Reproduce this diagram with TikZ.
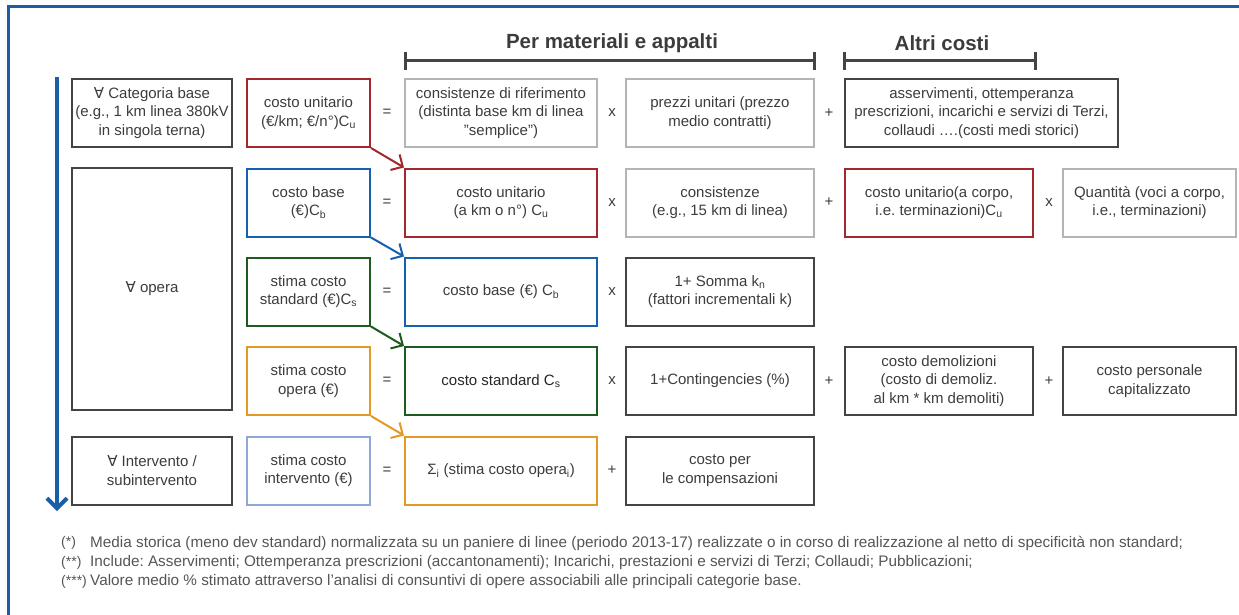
\documentclass[tikz,border=0pt]{standalone}
\usepackage{fontspec}
\setmainfont{Liberation Sans}
\newfontfamily\djv{DejaVu Sans}
\usetikzlibrary{arrows.meta}
\frenchspacing
\definecolor{dk}{HTML}{444444}
\definecolor{lg}{HTML}{B4B4B4}
\definecolor{rd}{HTML}{A2282E}
\definecolor{bl}{HTML}{1560B0}
\definecolor{gr}{HTML}{1E5B1E}
\definecolor{or}{HTML}{E29A25}
\definecolor{lb}{HTML}{8EA6D8}
\definecolor{txt}{HTML}{3C3C3C}
\definecolor{fn}{HTML}{555555}
\definecolor{frm}{HTML}{1A5EA8}
\newcommand{\fa}{{\djv ∀}}
\tikzset{
  bx/.style={draw, line width=2pt, rectangle, inner sep=0pt, align=center, text=txt,
    font=\fontsize{15}{18.5}\selectfont},
  cA/.style={minimum width=160pt},
  cB/.style={minimum width=123pt},
  cC/.style={minimum width=192pt},
  cD/.style={minimum width=188pt},
  cE/.style={minimum width=188pt},
  cEw/.style={minimum width=273pt},
  cF/.style={minimum width=173pt},
  rh/.style={minimum height=68pt},
  op/.style={text=txt, inner sep=0pt, font=\fontsize{15}{18.5}\selectfont},
  conn/.style={line width=2pt, -{Straight Barb[length=9pt,width=18pt,line width=2pt]}},
  brk/.style={draw=dk, line width=3pt},
  ttl/.style={text=txt, inner sep=0pt, font=\bfseries\fontsize{20.5}{24}\selectfont},
  note/.style={text=fn, inner sep=0pt, anchor=west, font=\fontsize{15.3}{18}\selectfont},
  notem/.style={text=fn, inner sep=0pt, anchor=west, font=\fontsize{14}{18}\selectfont},
}
\begin{document}
\begin{tikzpicture}[x=1pt,y=-1pt]
\useasboundingbox (0,0) rectangle (1239,615);
% frame
\draw[frm, line width=3pt] (8,615) -- (8,7) -- (1239,7);
% titles and brackets
\node[ttl] (t1) at (612,43) {Per materiali e appalti};
\node[ttl] (t2) at (942,43) {Altri costi};
\coordinate (p1) at (405,61); \coordinate (p2) at (814,61);
\coordinate (q1) at (844,61); \coordinate (q2) at (1035,61);
\draw[brk] (p1) -- (p2);
\draw[brk] ([yshift=-9pt]p1) -- ([yshift=9pt]p1);
\draw[brk] ([yshift=-9pt]p2) -- ([yshift=9pt]p2);
\draw[brk] (q1) -- (q2);
\draw[brk] ([yshift=-9pt]q1) -- ([yshift=9pt]q1);
\draw[brk] ([yshift=-9pt]q2) -- ([yshift=9pt]q2);
% left blue arrow
\coordinate (ta) at (57,77); \coordinate (tb) at (57,511);
\draw[frm, line width=4pt, -{Straight Barb[length=10pt,width=20pt,line width=4pt]}] (ta) -- (tb);

% row 1
\node[bx, draw=dk, cA, rh] (a1) at (152,113) {\fa{} Categoria base\\(e.g., 1 km linea 380kV\\in singola terna)};
\node[bx, draw=rd, cB, rh] (b1) at (308.5,113) {costo unitario\\(€/km; €/n°)C\textsubscript{u}};
\node[op] (e1) at (387,113) {=};
\node[bx, draw=lg, cC, rh] (c1) at (501,113) {consistenze di riferimento\\(distinta base km di linea\\"semplice")};
\node[op] (x1) at (612,113) {x};
\node[bx, draw=lg, cD, rh] (d1) at (720,113) {prezzi unitari (prezzo\\medio contratti)};
\node[op] (p1o) at (829,113) {+};
\node[bx, draw=dk, cEw, rh] (f1) at (981.5,113) {asservimenti, ottemperanza\\prescrizioni, incarichi e servizi di Terzi,\\collaudi ….(costi medi storici)};

% opera block
\node[bx, draw=dk, cA, minimum height=242pt] (a2) at (152,289) {\fa{} opera};

% row 2
\node[bx, draw=bl, cB, rh] (b2) at (308.5,202.5) {costo base\\(€)C\textsubscript{b}};
\node[op] (e2) at (387,202.5) {=};
\node[bx, draw=rd, cC, rh] (c2) at (501,202.5) {costo unitario\\(a km o n°) C\textsubscript{u}};
\node[op] (x2) at (612,202.5) {x};
\node[bx, draw=lg, cD, rh] (d2) at (720,202.5) {consistenze\\(e.g., 15 km di linea)};
\node[op] (p2o) at (829,202.5) {+};
\node[bx, draw=rd, cE, rh] (f2) at (939,202.5) {costo unitario(a corpo,\\i.e. terminazioni)C\textsubscript{u}};
\node[op] (x2b) at (1049,202.5) {x};
\node[bx, draw=lg, cF, rh] (g2) at (1149.5,202.5) {Quantità (voci a corpo,\\i.e., terminazioni)};

% row 3
\node[bx, draw=gr, cB, rh] (b3) at (308.5,291.5) {stima costo\\standard (€)C\textsubscript{s}};
\node[op] (e3) at (387,291.5) {=};
\node[bx, draw=bl, cC, rh] (c3) at (501,291.5) {costo base (€) C\textsubscript{b}};
\node[op] (x3) at (612,291.5) {x};
\node[bx, draw=dk, cD, rh] (d3) at (720,291.5) {1+ Somma k\textsubscript{n}\\(fattori incrementali k)};

% row 4
\node[bx, draw=or, cB, rh] (b4) at (308.5,381) {stima costo\\opera (€)};
\node[op] (e4) at (387,381) {=};
\node[bx, draw=gr, cC, rh, text=black!85] (c4) at (501,381) {costo standard C\textsubscript{s}};
\node[op] (x4) at (612,381) {x};
\node[bx, draw=dk, cD, rh] (d4) at (720,381) {1+Contingencies (\%)};
\node[op] (p4o) at (829,381) {+};
\node[bx, draw=dk, cE, rh] (f4) at (939,381) {costo demolizioni\\(costo di demoliz.\\al km * km demoliti)};
\node[op] (p4b) at (1049,381) {+};
\node[bx, draw=dk, cF, rh] (g4) at (1149.5,381) {costo personale\\capitalizzato};

% row 5
\node[bx, draw=dk, cA, rh] (a5) at (152,470.5) {\fa{} Intervento /\\subintervento};
\node[bx, draw=lb, cB, rh] (b5) at (308.5,470.5) {stima costo\\intervento (€)};
\node[op] (e5) at (387,470.5) {=};
\node[bx, draw=or, cC, rh] (c5) at (501,470.5) {Σ\textsubscript{i} (stima costo opera\textsubscript{i})};
\node[op] (p5o) at (612,470.5) {+};
\node[bx, draw=dk, cD, rh] (d5) at (720,470.5) {costo per\\le compensazioni};

% connectors
\draw[conn, rd] (b1.south east) -- (c2.north west);
\draw[conn, bl] (b2.south east) -- (c3.north west);
\draw[conn, gr] (b3.south east) -- (c4.north west);
\draw[conn, or] (b4.south east) -- (c5.north west);

% footnotes
\node[notem] (n1m) at (61,543) {(*)};
\node[note] (n1) at (90,543) {Media storica (meno dev standard) normalizzata su un paniere di linee (periodo 2013-17) realizzate o in corso di realizzazione al netto di specificità non standard;};
\node[notem] (n2m) at (61,563) {(**)};
\node[note] (n2) at (90,563) {Include: Asservimenti; Ottemperanza prescrizioni (accantonamenti); Incarichi, prestazioni e servizi di Terzi; Collaudi; Pubblicazioni;};
\node[notem] (n3m) at (61,582) {(***)};
\node[note] (n3) at (90,582) {Valore medio \% stimato attraverso l'analisi di consuntivi di opere associabili alle principali categorie base.};
\end{tikzpicture}
\end{document}
